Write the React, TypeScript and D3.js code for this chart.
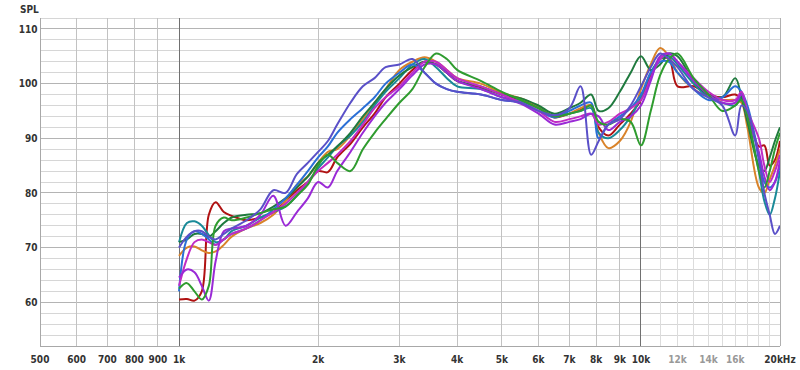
import React from 'react';
import * as d3 from 'd3';

// frequency grid (Hz) shared by every measurement
const freqs = [1000, 1040, 1080, 1120, 1160, 1200, 1250, 1300, 1400, 1500, 1600, 1700, 1800, 1900, 2000,
  2100, 2200, 2350, 2500, 2650, 2800, 3000, 3200, 3400, 3600, 3800, 4000, 4500, 5000, 5500, 6000, 6500,
  7000, 7400, 7800, 8100, 8500, 9000, 9500, 10000, 10500, 11000, 11500, 12000, 13000, 14000, 15000,
  16000, 16500, 17000, 18000, 18500, 19000, 19500, 20000];

const darkRed = [60.5, 60.6, 60.3, 62, 76, 78.3, 76.5, 75.8, 75, 75.5, 76.5, 78.5, 80.5, 82, 84,
  83.8, 86.5, 89, 92, 94.5, 97.5, 100, 102.5, 104, 103.5, 102, 100.5, 99.3, 98, 97, 95.5, 93.8,
  94.5, 95.2, 96, 92, 90.5, 92.5, 94.5, 97, 101.5, 104.5, 104.5, 99.5, 99.5, 98, 97.5,
  98, 97, 95, 88.5, 88.7, 85, 86, 89.5];
const green = [62.5, 63.5, 62, 60.5, 63, 74, 75.5, 75, 75.5, 76.3, 77, 77.5, 79.5, 81.5, 85,
  87, 85.5, 84, 88, 91, 93.5, 96.5, 99, 103, 105.5, 104.5, 102.5, 100.5, 98.5, 97, 95.5, 94,
  94.5, 95, 96, 93, 92.5, 93.5, 93, 88.7, 95, 101.5, 104.5, 105.5, 101, 98, 95,
  96, 97, 94, 84, 81, 84, 88, 91];
const teal = [71, 74.5, 74.8, 74, 72.3, 71, 71.5, 73, 74, 75.5, 76.5, 77.5, 79.5, 82, 84.5,
  86.5, 88.5, 90.5, 93, 96, 98.5, 101, 103.5, 104.5, 103, 101, 99.5, 99, 97.5, 96.8, 95.5, 94,
  94.5, 95, 95.5, 91, 90, 91.5, 94, 97.5, 102, 104.5, 105, 103.5, 100, 97.5, 96.5,
  96, 97.5, 94, 84, 78.5, 76, 79, 84];
const orange = [68.5, 70, 70.2, 69.5, 69, 69.3, 70.5, 72, 73.5, 74.5, 76, 78.5, 81.5, 83, 85.5,
  87.5, 88, 90.5, 93.5, 96.5, 99, 102.5, 104, 104.8, 104, 102.5, 101, 100, 98.3, 97.3, 95.8, 94,
  94.5, 95.5, 96, 91, 88.2, 89.5, 93, 99, 103.5, 106.5, 105, 102, 99, 97.5, 97,
  97, 96.5, 92, 81, 80, 82.5, 85, 88];
const blue = [62, 71.5, 73, 72.5, 71.5, 70.5, 71.5, 72.5, 73.5, 75, 77, 79, 81.5, 84, 86.5,
  88.5, 91, 93.5, 95.5, 97.5, 100, 102, 103.5, 102, 100, 99, 98.5, 98, 97, 96.5, 95, 93.8,
  95, 96, 96.5, 90, 92.5, 94, 95.5, 98, 102, 104, 104, 102, 99, 97, 97.5,
  99.5, 98.5, 96, 87, 82, 81, 82, 85];
const purple = [64.5, 66, 65.5, 63, 60.3, 67.5, 73, 73.5, 74, 76, 79.5, 74, 76.5, 79, 82,
  81, 84, 87.5, 91, 94, 96.5, 99, 101.5, 103.5, 103.5, 102, 100.5, 99, 97.5, 96.3, 94.5, 92.5,
  93, 93.5, 94.5, 94, 91.5, 93, 94, 96, 100.5, 105, 105.5, 104, 100.5, 98, 96.5,
  96.5, 98, 94, 87.5, 83, 80.5, 82, 86];
const indigo = [70, 72, 73, 73, 72, 71.5, 72.5, 73.5, 75, 77, 80.5, 80, 83.5, 85.5, 87.5,
  89.5, 92.5, 96.5, 99.5, 101, 103, 103.5, 104.5, 102, 100, 99, 98.5, 98, 97, 96.5, 95, 94.2,
  95.5, 99.5, 87, 89.5, 92.5, 93.5, 96, 99.5, 103, 105.5, 104.5, 103, 99, 97.5, 96,
  90.5, 96, 95, 86, 80, 76, 72.5, 74];
const darkGreen = [71, 71.5, 72.5, 72.5, 72, 73, 74.5, 75.5, 76, 76.3, 77.5, 79, 81, 83, 85.5,
  87, 88.5, 91, 94, 96.5, 99, 101.5, 103, 104, 103.5, 102, 100.5, 99.5, 98, 97.3, 96, 94.5,
  95.5, 96.5, 98, 95, 95.5, 98.5, 102, 105, 102.5, 103.5, 105.5, 105, 100.5, 98, 97.5,
  101, 97.5, 93, 85, 84, 86.5, 89.5, 92];
const magenta = [63, 68, 71, 71.5, 71, 70.5, 71.5, 72.5, 73.5, 75, 76.5, 78, 80, 82, 84,
  85.5, 87, 89.5, 92.5, 95.5, 97.5, 99.5, 102, 104, 104, 102.5, 101, 99.5, 98, 96.5, 95, 93,
  93.5, 94, 94.5, 92.5, 93, 94.5, 95.5, 97, 101, 104.5, 105.5, 104, 101, 98.5, 97,
  97, 98.5, 95, 90, 85, 82, 84, 87];

const seriesNames = ['darkRed', 'orange', 'teal', 'darkGreen', 'blue', 'magenta', 'purple', 'green', 'indigo'];
const seriesValues = [darkRed, orange, teal, darkGreen, blue, magenta, purple, green, indigo];
const seriesColors = ['#b01212', '#d9832a', '#1a8a98', '#1f7a3e', '#2b6fd6', '#c02cc4', '#9a2ad6', '#2f9c2f', '#5a50c8'];

const xTicks = [500, 600, 700, 800, 900, 1000, 2000, 3000, 4000, 5000, 6000, 7000, 8000, 9000, 10000, 12000, 14000, 16000, 20000];
const xTickLabels = ['500', '600', '700', '800', '900', '1k', '2k', '3k', '4k', '5k', '6k', '7k', '8k', '9k', '10k', '12k', '14k', '16k', '20kHz'];
const fineTicks = [11000, 12000, 13000, 14000, 15000, 16000, 17000, 18000, 19000];
const yTicks = [60, 70, 80, 90, 100, 110];

const W = 800;
const H = 370;
const left = 40;
const right = 780;
const top = 18;
const bottom = 346;

export default function App() {
  const x = d3.scaleLog().domain([500, 20000]).range([left, right]);
  const y = d3.scaleLinear().domain([52, 112]).range([bottom, top]);
  const minorY = d3.range(52, 113, 2);
  const gridX = [...d3.range(500, 1000, 100), ...d3.range(2000, 10000, 1000)];

  const line = d3.line<number>()
    .x((_, i) => x(freqs[i]))
    .y(d => y(d))
    .curve(d3.curveCatmullRom.alpha(0.5));

  const font = '"DejaVu Sans Condensed", "DejaVu Sans", sans-serif';

  return (
    <svg width={W} height={H} style={{ position: 'absolute', left: 0, top: 0, background: '#fff' }}>
      <defs>
        <clipPath id="plot">
          <rect x={left} y={top} width={right - left} height={bottom - top} />
        </clipPath>
      </defs>

      {/* horizontal grid */}
      {minorY.map(v => (
        <line key={'h' + v} x1={left} x2={right} y1={y(v)} y2={y(v)}
          stroke={v % 10 === 0 ? '#b4b4b4' : '#d6d6d6'} strokeWidth={1} shapeRendering="crispEdges" />
      ))}
      {/* vertical grid */}
      {gridX.map(f => (
        <line key={'v' + f} x1={x(f)} x2={x(f)} y1={top} y2={bottom} stroke="#c2c2c2" shapeRendering="crispEdges" />
      ))}
      {fineTicks.map(f => (
        <line key={'f' + f} x1={x(f)} x2={x(f)} y1={top} y2={bottom} stroke="#dcdcdc" shapeRendering="crispEdges" />
      ))}
      {[1000, 10000].map(f => (
        <line key={'d' + f} x1={x(f)} x2={x(f)} y1={top} y2={bottom} stroke="#707070" shapeRendering="crispEdges" />
      ))}
      <line x1={x(20000)} x2={x(20000)} y1={top} y2={bottom} stroke="#b0b0b0" shapeRendering="crispEdges" />
      <line x1={left} x2={left} y1={top} y2={bottom} stroke="#a8a8a8" shapeRendering="crispEdges" />
      <line x1={left} x2={right} y1={bottom} y2={bottom} stroke="#a8a8a8" shapeRendering="crispEdges" />

      {/* curves */}
      <g clipPath="url(#plot)" fill="none" strokeWidth={2} strokeLinejoin="round">
        {seriesValues.map((vals, i) => (
          <path key={seriesNames[i]} d={line(vals) ?? ''} stroke={seriesColors[i]} />
        ))}
      </g>

      {/* labels */}
      <g fontFamily={font} fontSize={10} fontWeight="bold" fill="#333">
        <text x={20} y={13}>SPL</text>
        {yTicks.map(v => (
          <text key={'yl' + v} x={37.5} y={y(v)} dy="0.36em" textAnchor="end">{v}</text>
        ))}
        {xTicks.map((f, i) => (
          <text key={'xl' + f} x={x(f)} y={363} textAnchor="middle"
            fill={f > 10000 && f < 20000 ? '#999' : '#333'}>{xTickLabels[i]}</text>
        ))}
      </g>
    </svg>
  );
}
